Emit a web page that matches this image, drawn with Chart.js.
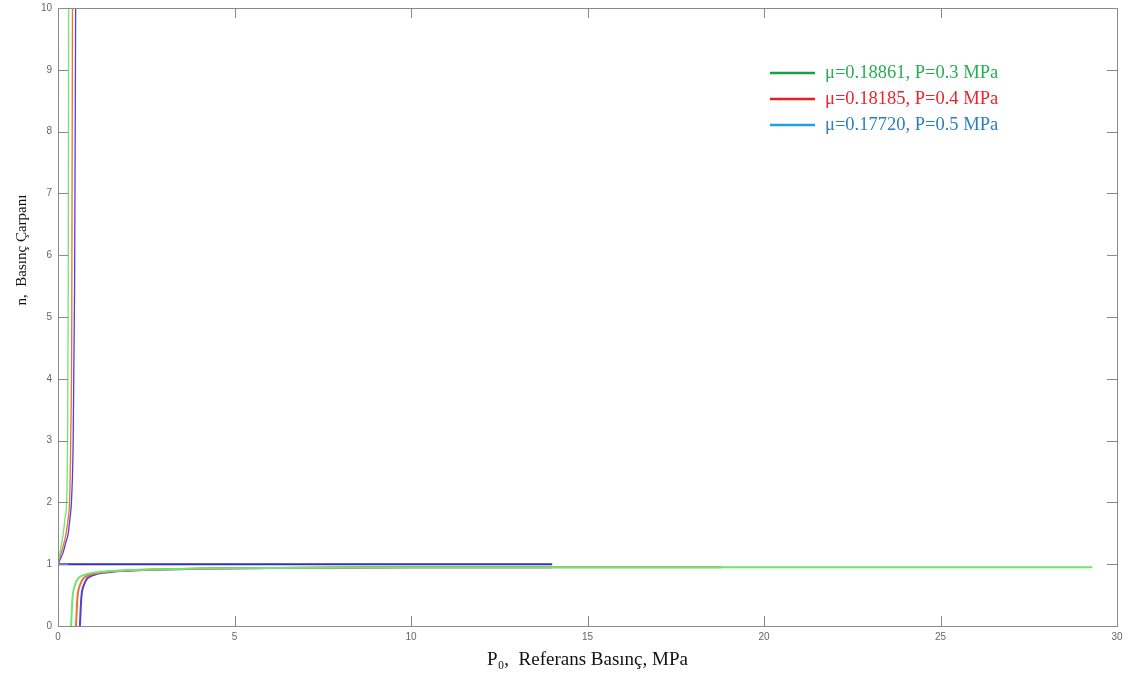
<!DOCTYPE html>
<html>
<head>
<meta charset="utf-8">
<script src="https://cdn.jsdelivr.net/npm/chart.js@4.4.1/dist/chart.umd.min.js"></script>
<style>
  html, body { margin: 0; padding: 0; background: #fff; }
  #wrap { width: 1138px; height: 679px; }
</style>
</head>
<body>
<div id="wrap"><canvas id="myChart" width="1138" height="679"></canvas></div>
<script>
// legend texts
const seriesLabels = ['μ=0.18861, P=0.3 MPa', 'μ=0.18185, P=0.4 MPa', 'μ=0.17720, P=0.5 MPa'];

// upper branch (n rising from 1 towards the asymptote at P)
const greenUpX = [0, 0.06, 0.1, 0.15, 0.2, 0.25, 0.27, 0.29, 0.3];
const greenUpY = [1, 1.2, 1.33, 1.5, 1.75, 2.1, 3.0, 5.5, 10];
const redUpX = [0, 0.07, 0.14, 0.23, 0.29, 0.33, 0.36, 0.39, 0.41];
const redUpY = [1, 1.15, 1.28, 1.5, 1.75, 2.05, 3.0, 5.0, 10];
const blueUpX = [0, 0.08, 0.15, 0.22, 0.29, 0.34, 0.38, 0.43, 0.47, 0.5];
const blueUpY = [1, 1.1, 1.2, 1.35, 1.5, 1.75, 2.0, 3.0, 5.5, 10];

// lower branch (n rising from 0 and flattening out just under 1)
const greenLowX = [0.37, 0.41, 0.48, 0.57, 0.76, 1.05, 1.47, 2, 2.6, 4, 6, 10, 15, 20, 29.3];
const greenLowY = [0, 0.45, 0.66, 0.77, 0.83, 0.865, 0.89, 0.905, 0.915, 0.93, 0.94, 0.95, 0.95, 0.95, 0.95];
const redLowX = [0.51, 0.55, 0.62, 0.72, 0.92, 1.22, 1.65, 2.2, 2.8, 4.2, 6, 10, 15, 18.8];
const redLowY = [0, 0.45, 0.66, 0.77, 0.83, 0.865, 0.89, 0.905, 0.915, 0.93, 0.94, 0.95, 0.95, 0.95];
const blueLowX = [0.62, 0.66, 0.73, 0.83, 1.03, 1.35, 1.8, 2.4, 3.0, 4.4, 6.2, 10, 14];
const blueLowY = [0, 0.45, 0.66, 0.77, 0.83, 0.865, 0.89, 0.905, 0.915, 0.93, 0.94, 0.95, 0.95];

// n = 1 line
const unitX = [0, 14];
const unitY = [1, 1];

const xTicks = [0, 5, 10, 15, 20, 25, 30];
const yTicks = [0, 1, 2, 3, 4, 5, 6, 7, 8, 9, 10];

const lineColors = ['#72e472', '#e8703a', '#5140d6'];
const legendLineColors = ['#1a9e4a', '#e81c22', '#1fa0e0'];
const legendTextColors = ['#27ae55', '#e6262b', '#2a7fc4'];

const toPts = (xs, ys) => xs.map((x, i) => ({ x: x, y: ys[i] }));

function curve(xs, ys, color, width) {
  return {
    data: toPts(xs, ys),
    borderColor: color,
    borderWidth: width || 1.3,
    pointRadius: 0,
    showLine: true,
    fill: false,
    cubicInterpolationMode: 'monotone'
  };
}

const datasets = [
  curve(greenUpX, greenUpY, lineColors[0]),
  curve(greenLowX, greenLowY, lineColors[0], 2),
  curve(redUpX, redUpY, lineColors[1]),
  curve(redLowX, redLowY, lineColors[1], 2),
  curve(blueUpX, blueUpY, lineColors[2]),
  curve(blueLowX, blueLowY, lineColors[2], 2),
  curve(unitX, unitY, '#3230c4', 2)
];

const serif = '"Liberation Serif", "Times New Roman", serif';

// box, inward tick marks, y title and the legend
const framePlugin = {
  id: 'frame',
  afterDraw(chart) {
    const { ctx, chartArea: a, scales } = chart;
    ctx.save();
    ctx.strokeStyle = '#8a8a8a';
    ctx.lineWidth = 1;
    ctx.strokeRect(a.left + 0.5, a.top + 0.5, a.right - a.left, a.bottom - a.top);
    ctx.beginPath();
    yTicks.forEach(v => {
      const y = Math.round(scales.y.getPixelForValue(v)) + 0.5;
      ctx.moveTo(a.left, y); ctx.lineTo(a.left + 10, y);
      ctx.moveTo(a.right, y); ctx.lineTo(a.right - 10, y);
    });
    xTicks.forEach(v => {
      const x = Math.round(scales.x.getPixelForValue(v)) + 0.5;
      ctx.moveTo(x, a.bottom); ctx.lineTo(x, a.bottom - 10);
      ctx.moveTo(x, a.top); ctx.lineTo(x, a.top + 10);
    });
    ctx.stroke();

    ctx.fillStyle = '#111';
    ctx.font = '15px ' + serif;
    ctx.textAlign = 'center';
    ctx.textBaseline = 'middle';
    ctx.translate(22, 250);
    ctx.rotate(-Math.PI / 2);
    ctx.fillText('n,  Basınç Çarpanı', 0, 0);
    ctx.restore();

    ctx.save();
    ctx.font = '18.5px ' + serif;
    ctx.textBaseline = 'middle';
    seriesLabels.forEach((t, i) => {
      const y = 73 + i * 26;
      ctx.strokeStyle = legendLineColors[i];
      ctx.lineWidth = 2.5;
      ctx.beginPath();
      ctx.moveTo(770, y); ctx.lineTo(815, y);
      ctx.stroke();
      ctx.fillStyle = legendTextColors[i];
      ctx.fillText(t, 825, y);
    });
    ctx.restore();
  }
};

var ctx = document.getElementById('myChart');

var myChart = new Chart(ctx, {
  type: 'scatter',
  data: { datasets: datasets },
  options: {
    responsive: false,
    animation: false,
    layout: { padding: { top: 8, right: 21, left: 0, bottom: 0 } },
    plugins: {
      legend: { display: false },
      tooltip: { enabled: false }
    },
    scales: {
      x: {
        type: 'linear',
        min: 0,
        max: 30,
        afterBuildTicks: s => { s.ticks = xTicks.map(v => ({ value: v })); },
        afterFit: s => { s.height = 53; s.paddingLeft = 0; s.paddingRight = 0; },
        grid: { display: false, tickLength: 0 },
        border: { display: false },
        ticks: { color: '#666', font: { size: 10, family: 'Arial, "Liberation Sans"' }, padding: 5, maxRotation: 0 },
        title: {
          display: true,
          text: 'P₀,  Referans Basınç, MPa',
          color: '#111',
          font: { size: 19, family: serif },
          padding: { top: 4, bottom: 8 }
        }
      },
      y: {
        type: 'linear',
        min: 0,
        max: 10,
        afterBuildTicks: s => { s.ticks = yTicks.map(v => ({ value: v })); },
        afterFit: s => { s.width = 58; s.paddingTop = 0; s.paddingBottom = 0; },
        grid: { display: false, tickLength: 0 },
        border: { display: false },
        ticks: { color: '#666', font: { size: 10, family: 'Arial, "Liberation Sans"' }, padding: 6 }
      }
    }
  },
  plugins: [framePlugin]
});
</script>
</body>
</html>
